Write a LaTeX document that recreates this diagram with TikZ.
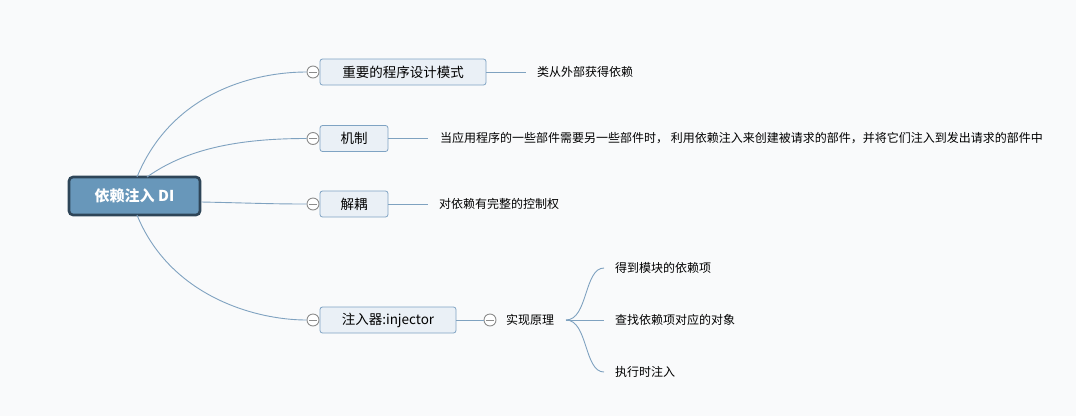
\documentclass[tikz,border=0pt]{standalone}
\usepackage{fontspec}
\setmainfont{Noto Sans CJK SC}
\begin{document}
\definecolor{bgc}{HTML}{F9FAFB}
\definecolor{linec}{HTML}{7FA2C0}
\definecolor{rootfill}{HTML}{6897BA}
\definecolor{rootdraw}{HTML}{2E4558}
\definecolor{boxfill}{HTML}{EAF0F6}
\definecolor{boxdraw}{HTML}{7FA3C3}
\definecolor{knob}{HTML}{8C8C8C}
\begin{tikzpicture}[x=1pt,y=-1pt,
  root/.style={draw=rootdraw,line width=2.6pt,fill=rootfill,rounded corners=4pt,
    minimum width=131pt,minimum height=38pt,inner sep=0pt,
    font=\fontsize{15}{15}\selectfont\bfseries,text=white},
  topic/.style={draw=boxdraw,line width=0.8pt,fill=boxfill,rounded corners=2.5pt,
    minimum height=26pt,inner sep=0pt,font=\fontsize{13.5}{14}\selectfont},
  leaf/.style={anchor=west,inner sep=0pt,font=\fontsize{12}{12}\selectfont},
  knobc/.style={circle,draw=knob,line width=0.9pt,fill=white,minimum size=12pt,inner sep=0pt,
    path picture={\draw[knob,line width=0.9pt] ([xshift=-4pt]path picture bounding box.center) -- ([xshift=4pt]path picture bounding box.center);}},
  conn/.style={draw=linec,line width=0.9pt}]
\fill[bgc] (0,0) rectangle (1076,416);
\useasboundingbox (0,0) rectangle (1076,416);

% central topic
\node[root] (r) at (134.5,196) {依赖注入 DI};

% main branches
\node[topic,minimum width=166pt] (t1) at (403,72) {重要的程序设计模式};
\node[topic,minimum width=68pt] (t2) at (354,138.5) {机制};
\node[topic,minimum width=68pt] (t3) at (354,204) {解耦};
\node[topic,minimum width=136pt] (t4) at (388,320) {注入器:injector};

\node[knobc] (k1) at (313,72) {};
\node[knobc] (k2) at (313,138.5) {};
\node[knobc] (k3) at (313,204) {};
\node[knobc] (k4) at (313,320) {};

\coordinate (rt1) at (137,177);
\coordinate (rt2) at (147,177);
\coordinate (rb4) at (137,215);
\draw[conn] (rt1) .. controls (172,92) and (255,72) .. (k1.west);
\draw[conn] (rt2) .. controls (185,150) and (235,138.5) .. (k2.west);
\draw[conn] (r.east |- 0,202) .. controls (250,203) and (270,204) .. (k3.west);
\draw[conn] (rb4) .. controls (170,296) and (255,320) .. (k4.west);

% details
\node[leaf] (d1) at (537,72) {类从外部获得依赖};
\node[leaf] (d2) at (440,138.5) {当应用程序的一些部件需要另一些部件时， 利用依赖注入来创建被请求的部件，并将它们注入到发出请求的部件中};
\node[leaf] (d3) at (439,204) {对依赖有完整的控制权};
\draw[conn] (t1.east) -- (d1.west -| 526,0);
\draw[conn] (t2.east) -- (d2.west -| 428,0);
\draw[conn] (t3.east) -- (d3.west -| 428,0);

% injector principle
\node[knobc] (k5) at (490,320) {};
\node[leaf] (p) at (506,320) {实现原理};
\draw[conn] (t4.east) -- (k5.west);
\coordinate (pe) at (566,320);
\node[leaf] (s1) at (615,268) {得到模块的依赖项};
\node[leaf] (s2) at (615,320) {查找依赖项对应的对象};
\node[leaf] (s3) at (615,372) {执行时注入};
\draw[conn] (pe) .. controls (588,320) and (584,268) .. (604,268);
\draw[conn] (pe) -- (604,320);
\draw[conn] (pe) .. controls (588,320) and (584,372) .. (604,372);
\end{tikzpicture}
\end{document}
